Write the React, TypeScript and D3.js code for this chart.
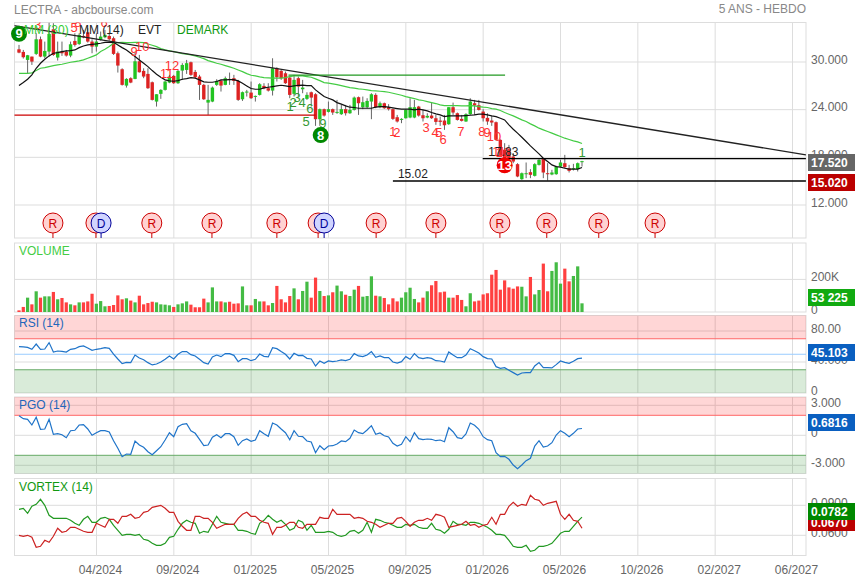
import React, { useEffect, useRef } from 'react';
import * as d3 from 'd3';

const WIDTH = 855;
const HEIGHT = 579;
const FONT = '"Liberation Sans", Arial, sans-serif';

const dateLabels = ['04/2024', '09/2024', '01/2025', '05/2025', '09/2025', '01/2026', '05/2026', '10/2026', '02/2027', '06/2027'];

// weekly candles, oldest first
const opens = [31.6,31.27,30.26,30.68,31.02,32.86,30.68,31.31,34.12,30.56,31.31,31.31,30.81,32.65,32.27,33.28,33.74,32.57,31.94,32.78,33.11,33.28,32.99,31.1,29.09,27.03,27.96,27.87,30.09,28.88,28.5,27.45,25.02,25.99,26.49,27.41,28.25,27.33,28.92,29.0,29.97,28.75,28.17,27.12,24.89,25.02,27.12,27.66,27.12,27.87,27.96,27.62,25.31,26.15,26.15,25.65,25.86,26.99,26.7,26.4,29.21,28.88,28.58,28.04,25.99,27.96,26.57,25.36,26.19,25.94,22.8,24.06,23.72,24.06,23.64,23.43,24.06,23.55,23.97,25.57,24.31,24.31,25.02,25.86,24.31,24.81,24.31,24.06,23.05,22.71,22.92,23.01,23.01,24.39,23.3,23.01,23.26,22.92,22.63,22.63,22.17,24.31,23.55,22.84,22.51,23.43,24.81,24.56,23.76,22.97,22.63,22.42,20.2,18.94,19.02,18.1,17.14,15.25,15.88,16.13,15.67,17.05,17.77,16.0,15.84,15.88,16.84,17.26,16.63,16.55,16.51,17.39];
const highs = [32.15,31.52,30.89,30.68,33.62,33.2,32.57,34.96,34.88,32.57,32.57,31.52,32.57,33.62,33.62,34.04,34.25,32.86,33.62,33.83,34.04,33.62,33.2,31.31,29.21,27.96,28.08,31.31,30.89,29.21,29.21,27.54,25.94,26.57,27.62,28.38,28.38,29.0,29.85,30.26,30.05,29.0,28.38,27.24,27.12,26.91,27.83,27.75,28.17,28.67,28.38,27.75,26.28,26.49,27.54,25.78,27.33,27.33,27.33,30.47,29.34,29.0,28.8,28.25,28.38,28.17,27.75,26.19,26.28,26.07,24.14,24.14,25.02,24.14,25.23,24.6,24.6,24.6,25.65,25.65,25.65,25.44,26.07,26.07,25.02,24.89,24.69,24.14,23.34,22.92,24.06,25.44,25.23,24.48,23.97,23.55,24.89,23.34,23.13,23.34,24.31,24.89,23.64,23.34,23.55,25.44,25.23,25.23,24.06,23.55,23.22,22.51,20.28,19.78,19.57,18.52,17.26,16.09,17.35,16.51,17.26,17.77,17.89,17.26,16.43,16.93,17.68,18.31,17.05,17.18,17.35,17.56];
const lows = [31.1,30.43,28.58,29.63,30.89,30.6,30.47,30.68,30.77,30.18,30.77,30.68,30.6,31.94,32.15,32.99,32.44,31.1,31.31,32.69,32.99,32.69,30.89,28.67,27.03,26.78,27.33,27.83,28.67,27.96,26.61,25.15,24.39,25.36,26.4,27.33,27.24,27.24,27.75,28.5,28.25,27.96,25.23,25.23,23.34,24.94,26.99,26.28,27.07,27.12,27.12,25.1,25.1,25.65,25.36,25.02,25.78,26.57,26.28,25.78,27.54,27.75,27.24,25.44,25.65,25.65,26.07,25.23,24.39,21.96,21.96,23.13,23.64,23.34,23.47,23.34,23.26,23.47,23.89,23.34,24.06,24.18,22.8,24.18,24.18,24.1,23.89,22.71,22.38,22.3,22.88,22.92,22.92,23.13,22.51,22.92,22.84,22.09,21.96,21.46,22.09,23.34,22.63,22.51,22.46,23.34,23.34,23.89,22.51,22.09,21.96,20.11,18.02,17.18,17.68,17.26,15.5,15.17,15.38,15.38,15.59,16.97,15.38,15.08,15.75,15.8,16.76,16.63,16.09,16.34,16.22,16.84];
const closes = [31.18,30.6,30.85,30.05,32.86,30.68,31.39,33.53,30.89,31.31,31.1,30.81,32.23,32.15,33.41,33.11,32.57,31.94,32.57,33.2,33.41,32.86,31.02,29.55,27.12,27.87,27.41,30.09,28.71,28.17,26.7,25.23,25.94,26.49,27.54,28.17,27.33,28.88,29.63,29.85,28.38,28.08,27.12,25.31,25.23,26.78,27.62,27.03,27.96,27.75,27.62,25.23,26.2,26.28,25.44,25.73,27.2,26.7,26.4,29.21,28.08,27.96,27.33,25.86,27.75,26.91,26.78,25.86,25.52,22.8,24.06,23.26,24.06,23.64,23.72,24.06,23.55,23.97,25.52,24.81,24.94,25.1,25.94,24.31,24.81,24.18,24.06,22.84,22.51,22.84,23.97,24.31,24.31,23.26,22.92,23.22,22.92,22.46,22.46,22.04,24.31,23.64,22.71,22.59,23.43,25.02,24.52,23.97,22.92,22.51,22.38,20.2,18.1,17.26,17.89,17.47,15.59,16.0,16.0,15.8,17.14,17.68,16.09,15.88,16.09,16.84,17.35,16.76,16.3,16.63,17.26,17.52];

const mm14 = [27.03,27.41,27.83,28.38,29.21,29.84,30.35,30.77,31.1,31.18,31.31,31.39,31.44,31.52,31.81,32.02,32.15,32.23,32.27,32.36,32.48,32.48,32.48,32.15,31.81,31.52,31.1,30.68,30.26,29.84,29.42,28.92,28.46,28.08,27.75,27.62,27.58,27.66,27.83,27.91,28.04,27.96,27.75,27.5,27.45,27.45,27.54,27.75,27.75,27.79,27.79,27.62,27.33,26.99,26.66,26.57,26.57,26.74,26.82,26.91,26.99,27.07,26.99,26.91,26.99,27.07,27.08,27.03,27.03,26.49,26.07,25.65,25.44,25.23,24.89,24.69,24.48,24.31,24.27,24.18,24.18,24.18,24.18,24.31,24.39,24.39,24.31,24.22,24.14,24.06,24.06,24.06,23.97,24.06,23.97,23.85,23.64,23.47,23.34,23.13,23.22,23.22,23.22,23.22,23.26,23.3,23.34,23.43,23.43,23.34,23.22,23.13,22.92,22.71,22.09,21.54,21.04,20.53,19.99,19.44,18.94,18.44,17.89,17.47,17.05,16.84,16.76,16.63,16.51,16.51,16.51,16.72];
const mm30 = [28.58,28.58,28.58,28.63,28.92,29.21,29.3,29.42,29.55,29.63,29.72,29.84,29.97,30.05,30.14,30.26,30.47,30.68,30.89,31.31,31.6,31.94,32.36,32.44,32.48,32.44,32.44,32.48,32.48,32.44,32.27,32.11,31.94,31.69,31.52,31.39,31.31,31.18,31.06,30.98,30.89,30.77,30.6,30.43,30.18,30.01,29.84,29.72,29.55,29.38,29.21,29.0,28.79,28.54,28.33,28.25,28.12,28.04,28.0,27.96,27.96,27.96,28.04,28.17,28.25,28.25,28.25,28.17,28.08,27.87,27.66,27.41,27.33,27.24,27.16,27.03,26.91,26.78,26.7,26.61,26.57,26.49,26.4,26.36,26.32,26.28,26.19,26.07,25.94,25.82,25.65,25.52,25.4,25.23,25.15,25.02,24.89,24.77,24.6,24.52,24.52,24.52,24.52,24.48,24.48,24.52,24.48,24.39,24.31,24.27,24.14,24.06,23.89,23.64,23.43,23.22,22.97,22.71,22.51,22.21,21.96,21.67,21.46,21.25,21.04,20.83,20.62,20.41,20.24,20.07,19.95,19.74];

// thousands of shares
const volumes = [10,31,88,47,127,88,96,96,123,78,86,59,47,41,59,59,65,112,51,67,35,37,43,102,78,84,70,59,100,47,55,63,59,47,45,41,31,47,53,65,45,29,29,82,59,151,65,65,59,63,51,53,157,41,41,80,65,65,41,55,160,78,59,98,145,78,129,186,88,211,129,98,102,121,162,127,106,98,137,160,94,98,219,100,96,86,47,84,65,88,121,149,80,59,88,127,164,190,121,125,88,88,104,74,35,115,65,70,108,115,229,258,137,194,151,143,157,155,96,215,108,135,297,127,252,305,174,266,188,221,280,53.225];

const rsi = [59.8,59.4,58.9,56.4,63.2,56.4,56.8,65,52.9,54.2,53.8,52.9,56.4,57.2,59.8,60.7,58.1,55.1,56.4,57.2,58.5,57.6,50.3,43.9,37.9,39.6,39.2,49,45.2,43,39.2,36.2,37.4,40,43.5,47.8,43.9,49.9,53.4,53.4,49.5,47.8,43.5,39.2,37.4,46.5,49,46.9,50.8,50.8,48.6,40.4,44.3,44.3,41.7,43.5,50.3,47.3,46.5,58.5,57.2,53.4,49.9,43.9,51.2,48.2,48.6,44.7,43.9,34.9,41.3,38.3,41.3,40.4,41.3,42.6,41.7,43.5,50.8,47.8,46.9,49,53.4,46,47.8,45.6,45.6,40,38.7,40.4,46.9,43.5,50.8,45.6,44.3,45.6,44.7,41.7,41.3,40,52.9,49,45.6,45.6,49,57.2,54.6,51.6,46.9,44.3,43.9,34,31.9,32.7,29.3,26.3,23.2,25.8,26.3,26.3,34.9,39.2,32.7,32.7,32.3,36.6,41.3,39.6,38.3,40.9,44.3,45.103];

const pgo = [1.96,1.66,1.6,1.03,1.8,0.6,0.63,1.6,0.1,0.16,0.06,-0.24,0.46,0.5,1.03,1.06,0.63,0,0.26,0.46,0.46,0.33,-0.54,-1.3,-2.14,-1.87,-1.9,-0.57,-0.97,-1.2,-1.64,-1.94,-1.54,-1.14,-0.47,0.26,-0.14,0.86,1.1,1.16,0.46,0.2,-0.4,-1.04,-0.97,-0.2,0.06,-0.24,0.16,0.16,-0.14,-1,-0.54,-0.37,-0.6,-0.47,0.46,0.16,-0.1,1.23,1.03,0.63,0.26,-0.44,0.46,-0.1,-0.14,-0.57,-0.67,-1.74,-1.04,-1.44,-1.07,-1.04,-0.87,-0.57,-0.64,-0.3,0.53,0.26,0.16,0.53,0.96,0.1,0.23,-0.04,-0.17,-0.8,-1.07,-0.9,-0.14,-0.64,0.26,-0.34,-0.44,-0.37,-0.4,-0.54,-0.47,-0.64,0.76,0.36,-0.24,-0.34,0.13,1.23,1,0.6,-0.14,-0.44,-0.54,-1.74,-2.14,-2.1,-2.4,-2.97,-3.34,-2.97,-2.54,-2.3,-1.07,-0.54,-1.17,-1.07,-0.74,0.03,0.46,0.2,-0.14,0.2,0.63,0.6816];

const vortexPlus = [0.086,0.087,0.082,0.089,0.091,0.096,0.09,0.08,0.077,0.077,0.077,0.077,0.075,0.072,0.07,0.076,0.079,0.073,0.073,0.077,0.078,0.076,0.07,0.065,0.06,0.061,0.061,0.06,0.061,0.056,0.055,0.052,0.05,0.05,0.052,0.058,0.059,0.066,0.072,0.075,0.073,0.072,0.062,0.064,0.063,0.071,0.079,0.073,0.072,0.071,0.071,0.065,0.065,0.064,0.062,0.061,0.072,0.075,0.08,0.076,0.073,0.075,0.071,0.065,0.067,0.075,0.073,0.065,0.07,0.063,0.063,0.063,0.064,0.063,0.06,0.059,0.06,0.064,0.065,0.062,0.065,0.073,0.063,0.076,0.075,0.073,0.072,0.07,0.068,0.068,0.071,0.07,0.071,0.068,0.067,0.067,0.072,0.066,0.065,0.062,0.066,0.074,0.071,0.071,0.07,0.073,0.073,0.072,0.07,0.068,0.065,0.061,0.061,0.06,0.055,0.049,0.048,0.048,0.05,0.044,0.045,0.049,0.049,0.05,0.052,0.057,0.062,0.064,0.064,0.069,0.074,0.0782];
const vortexMinus = [0.06,0.059,0.06,0.058,0.048,0.049,0.055,0.053,0.059,0.067,0.063,0.064,0.068,0.068,0.066,0.064,0.063,0.063,0.072,0.07,0.068,0.076,0.076,0.072,0.079,0.079,0.081,0.077,0.078,0.083,0.084,0.088,0.089,0.09,0.087,0.083,0.083,0.074,0.069,0.065,0.065,0.079,0.079,0.077,0.077,0.073,0.067,0.069,0.071,0.071,0.071,0.077,0.081,0.083,0.079,0.079,0.075,0.073,0.072,0.061,0.068,0.068,0.07,0.073,0.073,0.068,0.067,0.071,0.071,0.071,0.078,0.077,0.077,0.086,0.081,0.081,0.081,0.081,0.077,0.078,0.077,0.074,0.073,0.071,0.068,0.07,0.072,0.072,0.077,0.078,0.074,0.069,0.073,0.075,0.075,0.077,0.075,0.081,0.08,0.078,0.068,0.069,0.07,0.071,0.074,0.07,0.071,0.068,0.07,0.071,0.078,0.071,0.081,0.081,0.089,0.093,0.089,0.091,0.09,0.1,0.096,0.095,0.09,0.092,0.093,0.094,0.081,0.076,0.081,0.075,0.074,0.067];

// DEMARK counters: label, week, price
const redCounts: [string, number, number][] = [
  ['3', 4.4, 34.67], ['5', 12.8, 34.3], ['8', 13.7, 35], ['6', 19.8, 35], ['9', 26.8, 31.27], ['10', 28.7, 31.9],
  ['11', 34.4, 28.6], ['12', 35.6, 29.5], ['1', 87, 21.2], ['2', 87.9, 21.1], ['3', 94.7, 21.7], ['4', 96.8, 21.1],
  ['5', 97.7, 21.1], ['6', 98.7, 20.3], ['7', 102.8, 21.3], ['8', 107.7, 21.2], ['9', 108.9, 21.1], ['10', 110.5, 20.6],
  ['11', 111.7, 18.7], ['12', 112.6, 18.6],
];
const greenCounts: [string, number, number][] = [
  ['1', 63.1, 24.35], ['2', 63.8, 24.85], ['3', 64.7, 25.5], ['4', 65.9, 24.85], ['5', 66.8, 22.5], ['6', 67.7, 24.2],
  ['9', 70.7, 22.2], ['1', 131, 18.6],
];
const setupBadges: [string, number, number, string][] = [
  ['9', 0, 33.55, '#008800'], ['8', 70.2, 20.8, '#008800'], ['13', 113, 17, '#ee0000'],
];

// events along the time axis: R and D markers
const events: [string, number][] = [
  ['R', 7.9], ['R', 17.9], ['D', 19.1], ['R', 30.9], ['R', 44.9], ['R', 60], ['R', 69.6], ['D', 71],
  ['R', 83.1], ['R', 97], ['R', 111.9], ['R', 122.8], ['R', 134.9], ['R', 148],
];

const resistance = 17.83;
const support = 15.02;

const GRID = '#dddddd';
const GREY = '#666666';
const BLUE = '#1f74c9';
const UP = '#22c422';
const DOWN = '#dd2222';

const App: React.FC = () => {
  const svgRef = useRef<SVGSVGElement>(null);

  useEffect(() => {
    if (!svgRef.current) return;
    const svg = d3.select(svgRef.current);
    svg.selectAll('*').remove();

    const left = 14.5;
    const right = 806;
    const weeks = d3.range(closes.length);
    const x = d3.scaleLinear().domain([0, closes.length - 1]).range([19, 582]);
    const xDate = d3.scalePoint<string>().domain(dateLabels).range([96.5, 792.5]);

    const priceY = d3.scaleLinear().domain([12, 30]).range([205, 62]);
    const volumeY = d3.scaleLinear().domain([0, 200]).range([312, 279.4]);
    const rsiY = d3.scaleLinear().domain([0, 100]).range([393, 315.5]);
    const pgoY = d3.scaleLinear().domain([-3, 3]).range([465.3, 405.3]);
    const vortexY = d3.scaleLinear().domain([0.06, 0.09]).range([535.3, 505.3]);

    const text = (sel: any, px: number, py: number, s: string, fill: string, size = 12, anchor = 'start', weight = 'normal') =>
      sel.append('text').attr('x', px).attr('y', py).attr('fill', fill)
        .attr('font-size', size).attr('text-anchor', anchor).attr('font-weight', weight)
        .attr('font-family', FONT).text(s);

    const defs = svg.append('defs');
    defs.append('clipPath').attr('id', 'mainClip').append('rect')
      .attr('x', left).attr('y', 22.5).attr('width', right - left).attr('height', 215.5);

    // pane backgrounds: horizontal grid, vertical grid, frame
    const pane = (top: number, bottom: number, gridYs: number[]) => {
      const g = svg.append('g');
      g.selectAll('line.h').data(gridYs).enter().append('line')
        .attr('x1', left).attr('x2', right).attr('y1', d => d).attr('y2', d => d)
        .attr('stroke', GRID).attr('stroke-width', 1);
      g.selectAll('line.v').data(dateLabels).enter().append('line')
        .attr('x1', d => xDate(d)!).attr('x2', d => xDate(d)!).attr('y1', top).attr('y2', bottom)
        .attr('stroke', GRID).attr('stroke-width', 1);
      g.append('rect').attr('x', left).attr('y', top).attr('width', right - left).attr('height', bottom - top)
        .attr('fill', 'none').attr('stroke', GRID).attr('stroke-width', 1);
      return g;
    };

    pane(22.5, 238, [priceY(30), priceY(24), priceY(18), priceY(12)]);
    pane(243, 312, [volumeY(200)]);
    pane(315.5, 393, [rsiY(80), rsiY(40)]);
    pane(397, 473.5, [pgoY(3), pgoY(0), pgoY(-3)]);
    pane(478.5, 555.5, [vortexY(0.09), vortexY(0.06)]);

    // right hand tick labels
    const tickLabels = (scale: d3.ScaleLinear<number, number>, values: number[], labels: string[]) => {
      values.forEach((v, i) => {
        text(svg, 811, scale(v) + 1.5, labels[i], GREY);
      });
    };
    tickLabels(priceY, [30, 24, 18, 12], ['30.000', '24.000', '18.000', '12.000']);
    tickLabels(volumeY, [200, 0], ['200K', '0']);
    tickLabels(rsiY, [80, 40, 0], ['80.00', '40.000', '0']);
    tickLabels(pgoY, [3, 0, -3], ['3.000', '0', '-3.000']);
    tickLabels(vortexY, [0.09, 0.06], ['0.0900', '0.0600']);

    dateLabels.forEach(d => text(svg, xDate(d)! + 4, 573.5, d, GREY, 12, 'middle'));

    text(svg, 14, 13.5, 'LECTRA - abcbourse.com', '#888888', 12);
    text(svg, 806, 13, '5 ANS - HEBDO', '#888888', 12, 'end');

    // main pane
    const main = svg.append('g').attr('clip-path', 'url(#mainClip)');

    // wicks and bodies
    main.append('g').selectAll('line').data(weeks).enter().append('line')
      .attr('x1', d => x(d)).attr('x2', d => x(d))
      .attr('y1', d => priceY(highs[d])).attr('y2', d => priceY(lows[d]))
      .attr('stroke', '#666666').attr('stroke-width', 1);
    main.append('g').selectAll('rect').data(weeks).enter().append('rect')
      .attr('x', d => x(d) - 1.7).attr('width', 3.4)
      .attr('y', d => priceY(Math.max(opens[d], closes[d])))
      .attr('height', d => Math.max(1, Math.abs(priceY(opens[d]) - priceY(closes[d]))))
      .attr('fill', d => (closes[d] >= opens[d] ? UP : DOWN));

    const priceLine = d3.line<number>().x((_, i) => x(i)).y(d => priceY(d));
    main.append('path').attr('d', priceLine(mm30)!).attr('fill', 'none').attr('stroke', '#44cc44').attr('stroke-width', 1.2);
    main.append('path').attr('d', priceLine(mm14)!).attr('fill', 'none').attr('stroke', '#111111').attr('stroke-width', 1.2);

    // trend and level lines, in week / price units
    const segments: [number, number, number, number, string][] = [
      [-1.16, 34.58, 183.1, 18.31, '#222222'],
      [62.7, 28.34, 113.1, 28.34, '#229922'],
      [-1.16, 23.31, 69, 23.31, '#cc0000'],
      [107.9, resistance, 183.1, resistance, '#000000'],
      [87, support, 183.1, support, '#000000'],
    ];
    main.append('g').selectAll('line').data(segments).enter().append('line')
      .attr('x1', d => x(d[0])).attr('y1', d => priceY(d[1]))
      .attr('x2', d => x(d[2])).attr('y2', d => priceY(d[3]))
      .attr('stroke', d => d[4]).attr('stroke-width', 1.3);

    // DEMARK counters
    redCounts.forEach(d => text(main, x(d[1]), priceY(d[2]) + 4.5, d[0], '#ff3333', 13, 'middle'));
    greenCounts.forEach(d => text(main, x(d[1]), priceY(d[2]) + 4.5, d[0], '#339933', 13, 'middle'));

    // badges may overhang the frame on the left
    setupBadges.forEach(d => {
      svg.append('circle').attr('cx', x(d[1])).attr('cy', priceY(d[2])).attr('r', 8).attr('fill', d[3]);
      text(svg, x(d[1]), priceY(d[2]) + 4.7, d[0], '#ffffff', 13, 'middle', 'bold');
    });

    text(svg, x(87) + 5, priceY(support) - 3.5, '15.02', '#222222', 12);
    text(svg, x(109.2), priceY(resistance) - 3, '17.83', '#222222', 12);

    // events
    events.forEach(([kind, week]) => {
      const isR = kind === 'R';
      const stroke = isR ? '#cc0000' : '#000099';
      main.append('line').attr('x1', x(week)).attr('x2', x(week)).attr('y1', 233).attr('y2', 238).attr('stroke', stroke);
      main.append('circle').attr('cx', x(week)).attr('cy', 223).attr('r', 10)
        .attr('fill', isR ? '#ffd2d2' : '#d0d4ff').attr('stroke', stroke).attr('stroke-width', 1);
      text(main, x(week), 227.5, kind, stroke, 12, 'middle');
    });

    // legend on top of the marks
    text(svg, 24, 34, 'MM (30)', '#33cc33');
    text(svg, 79, 34, 'MM (14)', '#222222');
    text(svg, 138, 34, 'EVT', '#222222');
    text(svg, 177, 34, 'DEMARK', '#119911');

    // volume
    svg.append('g').selectAll('rect').data(weeks).enter().append('rect')
      .attr('x', d => x(d) - 1.6).attr('width', 3.2)
      .attr('y', d => volumeY(volumes[d]))
      .attr('height', d => volumeY(0) - volumeY(volumes[d]))
      .attr('fill', d => (closes[d] >= opens[d] ? '#44bb44' : '#ff4040'));
    text(svg, 19, 255, 'VOLUME', '#44cc44');

    // overbought and oversold bands
    const band = (y0: number, y1: number, fill: string, edgeY: number, edge: string) => {
      svg.append('rect').attr('x', left).attr('width', right - left).attr('y', Math.min(y0, y1)).attr('height', Math.abs(y1 - y0))
        .attr('fill', fill);
      svg.append('line').attr('x1', left).attr('x2', right).attr('y1', edgeY).attr('y2', edgeY).attr('stroke', edge);
    };
    band(rsiY(100), rsiY(70), 'rgba(255,0,0,0.16)', rsiY(70), '#ff6666');
    band(rsiY(30), rsiY(0), 'rgba(0,120,0,0.15)', rsiY(30), '#66aa66');
    band(pgoY(3.83), pgoY(2), 'rgba(255,0,0,0.16)', pgoY(2), '#ff6666');
    band(pgoY(-2), pgoY(-3.82), 'rgba(0,120,0,0.15)', pgoY(-2), '#66aa66');
    svg.append('line').attr('x1', left).attr('x2', right).attr('y1', rsiY(50)).attr('y2', rsiY(50)).attr('stroke', '#99ccff');

    const seriesLine = (scale: d3.ScaleLinear<number, number>, values: number[], color: string) => {
      const line = d3.line<number>().x((_, i) => x(i)).y(d => scale(d));
      svg.append('path').attr('d', line(values)!).attr('fill', 'none').attr('stroke', color).attr('stroke-width', 1.2);
    };
    seriesLine(rsiY, rsi, BLUE);
    seriesLine(pgoY, pgo, BLUE);
    seriesLine(vortexY, vortexPlus, '#229922');
    seriesLine(vortexY, vortexMinus, '#cc2222');

    text(svg, 19, 327, 'RSI (14)', '#2266bb');
    text(svg, 19, 408.5, 'PGO (14)', '#2266bb');
    text(svg, 19, 491, 'VORTEX (14)', '#119911');

    // last value boxes
    const valueBox = (top: number, label: string, fill: string) => {
      svg.append('rect').attr('x', 808).attr('y', top).attr('width', 47).attr('height', 17).attr('fill', fill);
      text(svg, 811, top + 13, label, '#ffffff', 12, 'start', 'bold');
    };
    valueBox(154, '17.520', '#666666');
    valueBox(174, '15.020', '#bb0000');
    valueBox(289, '53 225', '#11aa11');
    valueBox(344, '45.103', '#0a5fc0');
    valueBox(414, '0.6816', '#0a5fc0');
    valueBox(514, '0.0670', '#bb0000');
    valueBox(503, '0.0782', '#008800');
  }, []);

  return (
    <svg
      ref={svgRef}
      width={WIDTH}
      height={HEIGHT}
      style={{ position: 'absolute', left: 0, top: 0, background: '#ffffff' }}
    />
  );
};

export default App;
